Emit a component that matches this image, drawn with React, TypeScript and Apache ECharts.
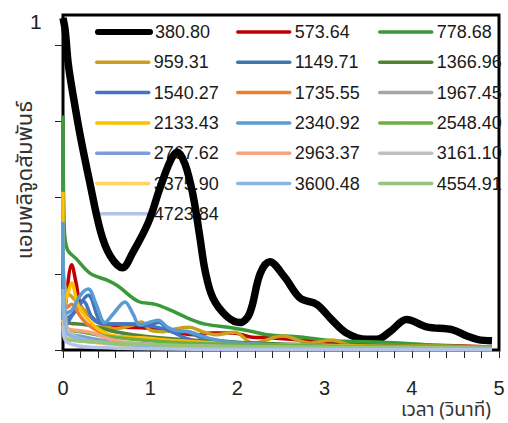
import React, { useEffect, useRef } from "react";
import * as echarts from "echarts";

// Relative amplitude vs time, one trace per frequency (Hz)
const frequencyNames = [
  "380.80", "573.64", "778.68", "959.31", "1149.71", "1366.96", "1540.27",
  "1735.55", "1967.45", "2133.43", "2340.92", "2548.40", "2767.62",
  "2963.37", "3161.10", "3375.90", "3600.48", "4554.91", "4723.84",
];

const lineColors = [
  "#000000", "#C00000", "#3A9A3A", "#C9A01E", "#3E78B2", "#548235", "#4472C4",
  "#ED7D31", "#A5A5A5", "#FFC000", "#5B9BD5", "#70AD47", "#7E9DD8",
  "#F4A57E", "#BFBFBF", "#FFD366", "#8AB6E3", "#95C47A", "#B4C3E6",
];

// [time (s), relative amplitude]
const f380 = [
  [0, 1.09], [0.025, 1.05], [0.06, 0.94], [0.12, 0.83], [0.2, 0.7], [0.3, 0.56],
  [0.43, 0.39], [0.54, 0.31], [0.68, 0.27], [0.8, 0.32], [0.98, 0.42], [1.11, 0.53],
  [1.23, 0.62], [1.31, 0.65], [1.4, 0.61], [1.49, 0.51], [1.57, 0.37], [1.63, 0.26],
  [1.72, 0.17], [1.88, 0.11], [2.03, 0.09], [2.14, 0.12], [2.26, 0.25], [2.37, 0.29],
  [2.54, 0.24], [2.72, 0.17], [2.91, 0.15], [3.08, 0.1], [3.25, 0.056], [3.48, 0.035],
  [3.6, 0.035], [3.75, 0.06], [3.94, 0.1], [4.17, 0.076], [4.47, 0.066], [4.64, 0.045],
  [4.76, 0.034], [4.92, 0.03],
];
const f573 = [
  [0, 0.05], [0.04, 0.18], [0.1, 0.28], [0.15, 0.22], [0.21, 0.14], [0.32, 0.11],
  [0.48, 0.08], [0.71, 0.075], [0.94, 0.072], [1.17, 0.066], [1.32, 0.056], [1.55, 0.05],
  [1.7, 0.056], [1.95, 0.056], [2.15, 0.043], [2.34, 0.04], [2.72, 0.033], [3.09, 0.025],
  [3.5, 0.02], [4.24, 0.016], [4.92, 0.01],
];
const f778 = [
  [0, 0.77], [0.015, 0.4], [0.05, 0.33], [0.15, 0.3], [0.32, 0.25], [0.5, 0.23],
  [0.63, 0.21], [0.86, 0.16], [1.06, 0.15], [1.24, 0.13], [1.47, 0.1], [1.63, 0.085],
  [1.95, 0.072], [2.18, 0.06], [2.34, 0.05], [2.72, 0.043], [3.09, 0.03], [3.5, 0.027],
  [3.86, 0.023], [4.24, 0.016], [4.92, 0.008],
];
const f959 = [
  [0, 0.3], [0.03, 0.2], [0.12, 0.17], [0.25, 0.13], [0.4, 0.09], [0.6, 0.07],
  [0.78, 0.08], [0.9, 0.092], [1.0, 0.065], [1.15, 0.06], [1.3, 0.07], [1.45, 0.075],
  [1.6, 0.06], [1.75, 0.05], [1.97, 0.058], [2.18, 0.023], [2.52, 0.046], [2.83, 0.023],
  [3.09, 0.033], [3.3, 0.016], [4, 0.014], [4.92, 0.01],
];
const f1149 = [
  [0, 0.3], [0.02, 0.1], [0.12, 0.12], [0.29, 0.18], [0.44, 0.09], [0.6, 0.085],
  [0.8, 0.085], [0.95, 0.08], [1.1, 0.09], [1.25, 0.06], [1.4, 0.06], [1.6, 0.04],
  [2, 0.025], [3, 0.015], [4.92, 0.008],
];
const f1366 = [
  [0, 0.12], [0.05, 0.09], [0.2, 0.085], [0.4, 0.075], [0.6, 0.06], [0.8, 0.05],
  [1.1, 0.04], [1.6, 0.03], [2.5, 0.02], [3.5, 0.014], [4.92, 0.008],
];
const f1540 = [
  [0, 0.25], [0.03, 0.08], [0.12, 0.12], [0.23, 0.16], [0.35, 0.1], [0.5, 0.085],
  [0.75, 0.085], [0.98, 0.08], [1.2, 0.066], [1.4, 0.04], [1.6, 0.025], [2, 0.018],
  [3, 0.01], [4.92, 0.005],
];
const f1735 = [
  [0, 0.2], [0.05, 0.14], [0.1, 0.15], [0.2, 0.11], [0.3, 0.08], [0.5, 0.05],
  [0.8, 0.04], [1.2, 0.03], [2, 0.02], [3, 0.012], [4.92, 0.006],
];
const f1967 = [
  [0, 0.25], [0.02, 0.2], [0.05, 0.06], [0.15, 0.035], [0.4, 0.025], [1, 0.018],
  [2, 0.012], [3, 0.01], [4.92, 0.005],
];
const f2133 = [
  [0, 0.52], [0.015, 0.15], [0.05, 0.18], [0.1, 0.22], [0.17, 0.15], [0.26, 0.11],
  [0.4, 0.07], [0.6, 0.045], [0.9, 0.04], [1.3, 0.03], [2, 0.02], [3, 0.015],
  [4, 0.01], [4.92, 0.008],
];
const f2340 = [
  [0, 0.42], [0.02, 0.12], [0.1, 0.13], [0.2, 0.18], [0.29, 0.2], [0.38, 0.15],
  [0.48, 0.09], [0.58, 0.12], [0.71, 0.158], [0.8, 0.12], [0.88, 0.082], [0.98, 0.09],
  [1.09, 0.098], [1.2, 0.075], [1.28, 0.065], [1.45, 0.06], [1.6, 0.045], [1.8, 0.03],
  [2.2, 0.02], [3, 0.012], [4.92, 0.006],
];
const f2548 = [
  [0, 0.14], [0.05, 0.07], [0.2, 0.06], [0.5, 0.045], [1, 0.03], [1.5, 0.022],
  [2.5, 0.015], [3.5, 0.01], [4.92, 0.006],
];
const f2767 = [
  [0, 0.15], [0.04, 0.06], [0.2, 0.045], [0.5, 0.03], [1, 0.018], [2, 0.01], [4.92, 0.004],
];
const f2963 = [
  [0, 0.1], [0.05, 0.07], [0.15, 0.065], [0.32, 0.058], [0.55, 0.035], [0.8, 0.022],
  [1.2, 0.015], [2, 0.01], [4.92, 0.004],
];
const f3161 = [
  [0, 0.18], [0.03, 0.08], [0.1, 0.05], [0.3, 0.03], [0.7, 0.02], [1.5, 0.012],
  [3, 0.007], [4.92, 0.004],
];
const f3375 = [
  [0, 0.1], [0.05, 0.05], [0.2, 0.035], [0.5, 0.02], [1, 0.012], [2, 0.008], [4.92, 0.004],
];
const f3600 = [
  [0, 0.2], [0.03, 0.06], [0.1, 0.045], [0.3, 0.03], [0.6, 0.02], [1.2, 0.012],
  [2.5, 0.008], [4.92, 0.004],
];
const f4554 = [
  [0, 0.06], [0.05, 0.035], [0.3, 0.028], [0.8, 0.02], [1.5, 0.014], [2.5, 0.01], [4.92, 0.005],
];
const f4723 = [
  [0, 0.08], [0.03, 0.03], [0.15, 0.015], [0.4, 0.008], [1, 0.004], [2, 0.002], [4.92, 0.001],
];

const seriesValues = [
  f380, f573, f778, f959, f1149, f1366, f1540, f1735, f1967, f2133,
  f2340, f2548, f2767, f2963, f3161, f3375, f3600, f4554, f4723,
];

const xTickLabels = ["0", "1", "2", "3", "4", "5"];
const yTickValues = [0, 0.25, 0.5, 0.75, 1];

// legend columns, row by row
const legendColumn1 = ["959.31", "1540.27", "2133.43", "2767.62", "3375.90", "4723.84"];
const legendColumn2 = ["573.64", "1149.71", "1735.55", "2340.92", "2963.37", "3600.48"];
const legendColumn3 = ["778.68", "1366.96", "1967.45", "2548.40", "3161.10", "4554.91"];

const FONT = "'Liberation Sans', Arial, 'Noto Sans', sans-serif";
const THAI_FONT = "'Noto Sans Thai', 'Loma', 'Garuda', 'Tahoma', 'Liberation Sans', sans-serif";

export default function App() {
  const ref = useRef<HTMLDivElement>(null);

  useEffect(() => {
    if (!ref.current) return;
    const chart = echarts.init(ref.current, null, { renderer: "svg" });

    const legendBase = {
      orient: "vertical" as const,
      padding: 0,
      itemWidth: 52,
      itemHeight: 3,
      itemGap: 10.3,
      z: 1,
      selectedMode: false,
      textStyle: { fontSize: 18, lineHeight: 20, fontFamily: FONT, color: "#1a1a1a" },
      lineStyle: { width: 3.5, cap: "round" as const },
    };

    chart.setOption({
      animation: false,
      grid: {
        left: 63,
        right: 9,
        top: 15,
        bottom: 73,
        show: true,
        borderColor: "#000",
        borderWidth: 3,
        backgroundColor: "transparent",
      },
      legend: [
        { ...legendBase, data: ["380.80"], left: 95, top: 22, itemHeight: 6, lineStyle: { width: 6, cap: "round" } },
        { ...legendBase, data: legendColumn1, left: 95, top: 52.3 },
        { ...legendBase, data: legendColumn2, left: 236, top: 22 },
        { ...legendBase, data: legendColumn3, left: 378, top: 22 },
      ],
      xAxis: {
        type: "value",
        min: 0,
        max: 5,
        interval: 1,
        axisLine: { show: true, lineStyle: { color: "#000", width: 2 } },
        axisTick: { show: true, length: 8, lineStyle: { color: "#222", width: 1 } },
        minorTick: { show: true, splitNumber: 5, length: 8, lineStyle: { color: "#222", width: 1 } },
        splitLine: { show: false },
        axisLabel: {
          margin: 29,
          fontSize: 20,
          lineHeight: 18,
          fontFamily: FONT,
          color: "#222",
          formatter: (v: number) => xTickLabels[Math.round(v)] ?? "",
        },
      },
      yAxis: {
        type: "value",
        min: 0,
        max: 1.1,
        interval: 0.25,
        axisLine: { show: true, lineStyle: { color: "#000", width: 2 } },
        axisTick: { show: true, length: 8, customValues: yTickValues, lineStyle: { color: "#222", width: 1 } },
        splitLine: { show: false },
        axisLabel: { show: false },
      },
      graphic: [
        {
          type: "text",
          left: 30,
          top: 11,
          silent: true,
          style: { text: "1", fontSize: 21, fontFamily: FONT, fill: "#222" },
        },
        {
          type: "text",
          x: 25,
          y: 180,
          rotation: Math.PI / 2,
          silent: true,
          style: {
            text: "แอมพลิจูดสัมพันธ์",
            fontSize: 22,
            fontFamily: THAI_FONT,
            fill: "#333",
            textAlign: "center",
            textVerticalAlign: "middle",
          },
        },
        {
          type: "text",
          x: 446,
          y: 410,
          silent: true,
          style: {
            text: "เวลา (วินาที)",
            fontSize: 19,
            lineHeight: 18,
            fontFamily: THAI_FONT,
            fill: "#333",
            textAlign: "center",
            textVerticalAlign: "middle",
          },
        },
      ],
      series: frequencyNames.map((name, i) => ({
        name,
        type: "line",
        data: seriesValues[i],
        color: lineColors[i],
        symbol: "none",
        smooth: 0.35,
        silent: true,
        z: 2,
        lineStyle: { width: i === 0 ? 7.5 : 3.5, color: lineColors[i] },
        emphasis: { disabled: true },
      })),
    });

    return () => chart.dispose();
  }, []);

  return (
    <div
      ref={ref}
      style={{ position: "absolute", left: 0, top: 0, width: 508, height: 423 }}
    />
  );
}
